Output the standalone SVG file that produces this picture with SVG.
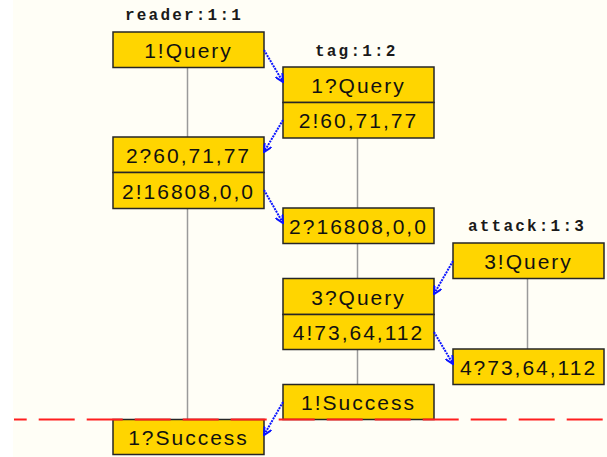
<svg xmlns="http://www.w3.org/2000/svg" width="607" height="457" viewBox="0 0 607 457">
  <style>
    .canvas { fill: #fffef6; }
    .title { font-family: "Liberation Mono", "DejaVu Sans Mono", monospace; font-size: 16px; font-weight: bold; letter-spacing: 2.2px; fill: #1a1a1a; }
    .box { fill: #ffd500; stroke: #262626; stroke-width: 1.5; }
    .label { font-family: "Liberation Sans", Arial, sans-serif; font-size: 21px; letter-spacing: 2px; fill: #111; text-anchor: middle; }
    .life { stroke: #9a9a9a; stroke-width: 1.5; }
    .msg { stroke: #0a14ff; stroke-width: 2; stroke-dasharray: 2 1; fill: none; marker-end: url(#head); }
    .cut { stroke: #ff1e1e; stroke-width: 2; stroke-dasharray: 36 12; stroke-dashoffset: 23.3; }
  </style>
  <defs>
    <marker id="head" viewBox="0 0 10 10" refX="9" refY="5" markerWidth="9" markerHeight="9" markerUnits="userSpaceOnUse" orient="auto">
      <path d="M0,0.5 L9,5 L0,9.5" fill="none" stroke="#0a14ff" stroke-width="2.2"/>
    </marker>
  </defs>

  <rect x="0" y="0" width="607" height="457" fill="#ffffff"/>
  <rect class="canvas" x="13" y="0" width="594" height="457"/>

  <!-- lifelines -->
  <g id="lifelines">
    <line class="life" x1="187.5" y1="67" x2="187.5" y2="419"/>
    <line class="life" x1="357.5" y1="137" x2="357.5" y2="385"/>
    <line class="life" x1="527.5" y1="278" x2="527.5" y2="349"/>
  </g>

  <!-- process titles -->
  <g id="titles">
    <text class="title" x="125" y="20">reader:1:1</text>
    <text class="title" x="315" y="56">tag:1:2</text>
    <text class="title" x="468" y="231">attack:1:3</text>
  </g>

  <!-- reader:1:1 -->
  <g id="r-1-query">
    <rect class="box" x="113" y="32" width="151" height="35.5"/>
    <text class="label" x="188.5" y="57.5">1!Query</text>
  </g>
  <g id="r-2-recv">
    <rect class="box" x="113" y="137" width="151" height="35.5"/>
    <text class="label" x="188.5" y="162.5">2?60,71,77</text>
  </g>
  <g id="r-2-send">
    <rect class="box" x="113" y="172.5" width="151" height="36"/>
    <text class="label" x="188.5" y="198.5">2!16808,0,0</text>
  </g>
  <g id="r-1-success">
    <rect class="box" x="113" y="419.5" width="151" height="35"/>
    <text class="label" x="188.5" y="444.5">1?Success</text>
  </g>

  <!-- tag:1:2 -->
  <g id="t-1-query">
    <rect class="box" x="283" y="67" width="151" height="35.5"/>
    <text class="label" x="358.5" y="92.5">1?Query</text>
  </g>
  <g id="t-2-send">
    <rect class="box" x="283" y="102.5" width="151" height="35.5"/>
    <text class="label" x="358.5" y="128">2!60,71,77</text>
  </g>
  <g id="t-2-recv">
    <rect class="box" x="283" y="208" width="151" height="35.5"/>
    <text class="label" x="358.5" y="233.5">2?16808,0,0</text>
  </g>
  <g id="t-3-query">
    <rect class="box" x="283" y="278.5" width="151" height="36"/>
    <text class="label" x="358.5" y="304.5">3?Query</text>
  </g>
  <g id="t-4-send">
    <rect class="box" x="283" y="314.5" width="151" height="35"/>
    <text class="label" x="358.5" y="339.5">4!73,64,112</text>
  </g>
  <g id="t-1-success">
    <rect class="box" x="283" y="384.5" width="151" height="35"/>
    <text class="label" x="358.5" y="409.5">1!Success</text>
  </g>

  <!-- attack:1:3 -->
  <g id="a-3-query">
    <rect class="box" x="453" y="243" width="151" height="35.5"/>
    <text class="label" x="528.5" y="268.5">3!Query</text>
  </g>
  <g id="a-4-recv">
    <rect class="box" x="453" y="349" width="151" height="35.5"/>
    <text class="label" x="528.5" y="374.5">4?73,64,112</text>
  </g>

  <!-- messages -->
  <g id="connectors">
    <line class="msg" x1="264" y1="50" x2="283" y2="82"/>
    <line class="msg" x1="283" y1="120" x2="264" y2="152"/>
    <line class="msg" x1="264" y1="190" x2="283" y2="223"/>
    <line class="msg" x1="453" y1="261" x2="434" y2="294"/>
    <line class="msg" x1="434" y1="332" x2="453" y2="364"/>
    <line class="msg" x1="283" y1="402" x2="264" y2="435"/>
  </g>

  <!-- end-of-run cut line -->
  <line class="cut" x1="14" y1="419.5" x2="607" y2="419.5"/>
</svg>
